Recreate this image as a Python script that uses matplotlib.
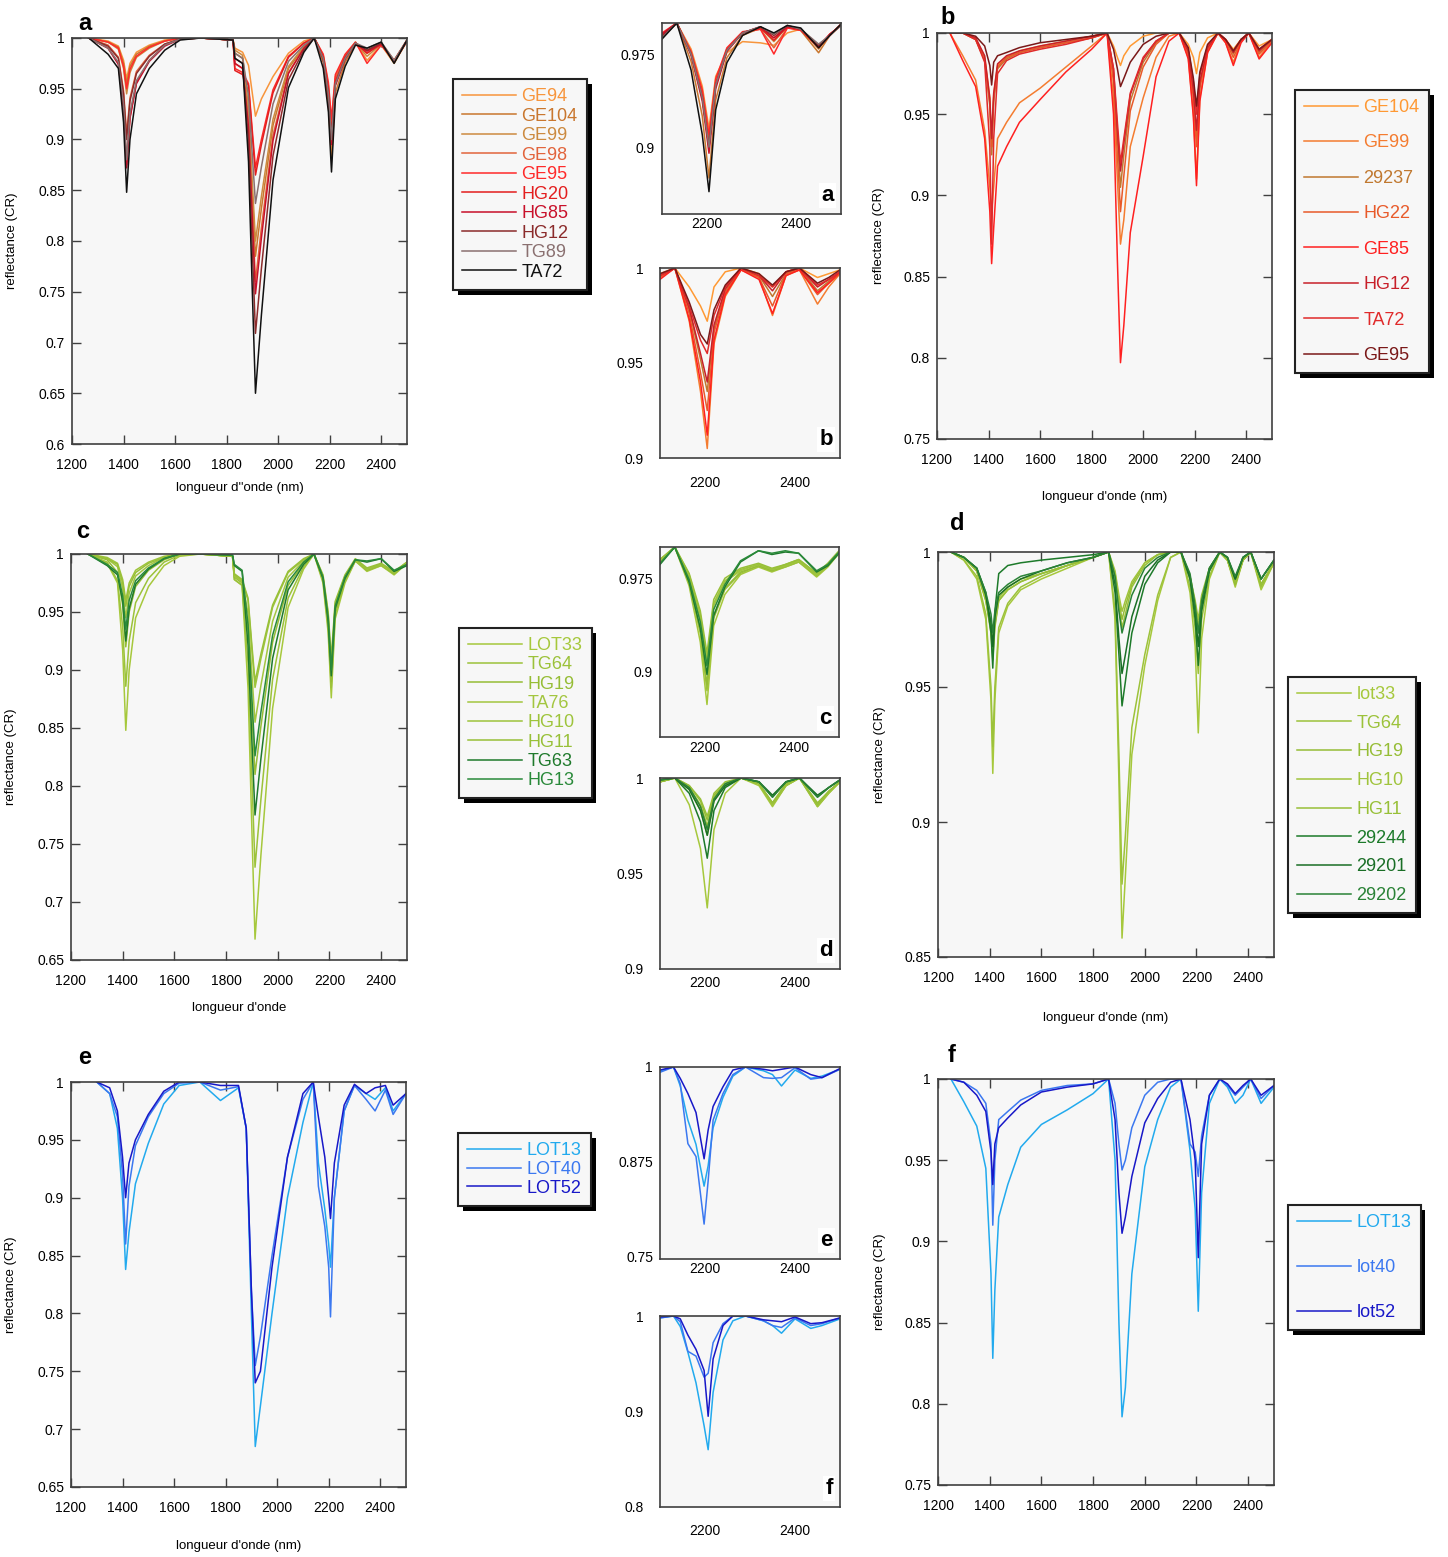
import numpy as np
import matplotlib
matplotlib.use("Agg")
import matplotlib.pyplot as plt
import matplotlib.patheffects as pe
from matplotlib.ticker import FuncFormatter

plt.rcParams['font.family'] = ['Liberation Sans', 'DejaVu Sans']

W, H = 1448, 1557
BG = "#f7f7f7"
SPINE = "#404040"

# ---- wavelength grids (nm)
WL_L = [1265, 1340, 1380, 1400, 1412, 1425, 1450, 1500, 1560, 1620, 1700, 1825, 1832, 1862, 1885,
        1900, 1912, 1935, 1980, 2040, 2100, 2140, 2175, 2195, 2207, 2222, 2260, 2300, 2345, 2400,
        2450, 2500]
WL_E = [1300, 1350, 1380, 1400, 1412, 1425, 1450, 1500, 1560, 1620, 1700, 1780, 1850, 1880, 1900,
        1915, 1935, 1980, 2040, 2100, 2140, 2160, 2185, 2200, 2207, 2222, 2260, 2300, 2345, 2380,
        2420, 2450, 2500]
WL_R = [1250, 1300, 1350, 1385, 1405, 1412, 1420, 1435, 1470, 1520, 1600, 1700, 1800, 1860, 1885,
        1900, 1912, 1925, 1950, 2000, 2050, 2100, 2140, 2175, 2195, 2207, 2220, 2250, 2290, 2320,
        2350, 2380, 2410, 2450, 2500]
WL_IN = [2100, 2133, 2165, 2190, 2205, 2220, 2245, 2280, 2320, 2350, 2380, 2410, 2450, 2475, 2500]
WL_IN2 = [2100, 2130, 2145, 2162, 2180, 2198, 2207, 2218, 2240, 2262, 2290, 2330, 2350, 2370, 2400,
          2435, 2460, 2500]

# ---- panel a
names_a = ["GE94", "GE104", "GE99", "GE98", "GE95", "HG20", "HG85", "HG12", "TG89", "TA72"]
colors_a = ["#f7953c", "#c9772e", "#cc8a40", "#e2643c", "#ff2a2a", "#e31e1e", "#c8102a",
            "#8b2b2b", "#8a7070", "#111111"]
a_GE94 = [1.000, 0.997, 0.992, 0.978, 0.960, 0.975, 0.986, 0.993, 0.998, 1.000, 1.000, 0.998, 0.990, 0.986, 0.973, 0.945, 0.923, 0.940, 0.962, 0.985, 0.997, 1.000, 0.983, 0.953, 0.915, 0.962, 0.983, 0.996, 0.978, 0.993, 0.975, 0.997]
a_GE104 = [1.000, 0.996, 0.991, 0.975, 0.955, 0.972, 0.984, 0.992, 0.997, 1.000, 1.000, 0.998, 0.985, 0.980, 0.925, 0.845, 0.785, 0.832, 0.914, 0.970, 0.991, 1.000, 0.976, 0.934, 0.880, 0.946, 0.976, 0.994, 0.988, 0.995, 0.978, 0.998]
a_GE99 = [1.000, 0.996, 0.989, 0.970, 0.945, 0.966, 0.981, 0.990, 0.997, 1.000, 1.000, 0.998, 0.988, 0.983, 0.930, 0.856, 0.800, 0.844, 0.920, 0.972, 0.992, 1.000, 0.981, 0.948, 0.905, 0.957, 0.981, 0.995, 0.982, 0.994, 0.976, 0.997]
a_GE98 = [1.000, 0.993, 0.981, 0.948, 0.905, 0.941, 0.967, 0.983, 0.994, 0.999, 1.000, 0.998, 0.975, 0.970, 0.916, 0.827, 0.760, 0.813, 0.904, 0.966, 0.990, 1.000, 0.982, 0.950, 0.910, 0.960, 0.982, 0.995, 0.985, 0.995, 0.977, 0.998]
a_GE95 = [1.000, 0.996, 0.990, 0.972, 0.950, 0.969, 0.982, 0.991, 0.997, 1.000, 1.000, 0.998, 0.970, 0.966, 0.955, 0.908, 0.872, 0.900, 0.949, 0.982, 0.995, 1.000, 0.984, 0.956, 0.920, 0.964, 0.984, 0.996, 0.975, 0.993, 0.978, 0.997]
a_HG20 = [1.000, 0.990, 0.975, 0.931, 0.875, 0.922, 0.956, 0.978, 0.993, 0.999, 1.000, 0.998, 0.968, 0.964, 0.953, 0.903, 0.865, 0.895, 0.946, 0.981, 0.995, 1.000, 0.981, 0.948, 0.905, 0.957, 0.981, 0.995, 0.985, 0.994, 0.977, 0.997]
a_HG85 = [1.000, 0.990, 0.974, 0.930, 0.872, 0.921, 0.955, 0.977, 0.992, 0.999, 1.000, 0.998, 0.975, 0.970, 0.912, 0.819, 0.748, 0.803, 0.899, 0.965, 0.990, 1.000, 0.979, 0.942, 0.895, 0.953, 0.979, 0.995, 0.987, 0.994, 0.977, 0.998]
a_HG12 = [1.000, 0.992, 0.980, 0.945, 0.900, 0.938, 0.965, 0.982, 0.994, 0.999, 1.000, 0.998, 0.980, 0.975, 0.898, 0.790, 0.709, 0.773, 0.884, 0.959, 0.988, 1.000, 0.980, 0.945, 0.900, 0.955, 0.980, 0.995, 0.988, 0.995, 0.976, 0.997]
a_TG89 = [1.000, 0.990, 0.976, 0.934, 0.880, 0.926, 0.958, 0.978, 0.993, 0.999, 1.000, 0.998, 0.985, 0.980, 0.943, 0.883, 0.837, 0.873, 0.935, 0.977, 0.993, 1.000, 0.980, 0.945, 0.900, 0.955, 0.980, 0.995, 0.990, 0.996, 0.978, 0.998]
a_TA72 = [1.000, 0.984, 0.970, 0.917, 0.848, 0.900, 0.945, 0.970, 0.988, 0.998, 1.000, 0.998, 0.980, 0.975, 0.878, 0.748, 0.650, 0.727, 0.860, 0.951, 0.986, 1.000, 0.970, 0.927, 0.868, 0.940, 0.972, 0.993, 0.990, 0.996, 0.975, 0.998]
curves_a = [a_GE94, a_GE104, a_GE99, a_GE98, a_GE95, a_HG20, a_HG85, a_HG12, a_TG89, a_TA72]

# inset a (2100-2500)
ia_GE94 = [0.990, 1.000, 0.979, 0.949, 0.915, 0.957, 0.976, 0.985, 0.984, 0.982, 0.992, 0.995, 0.982, 0.990, 0.998]
ia_GE104 = [0.988, 1.000, 0.969, 0.925, 0.875, 0.938, 0.972, 0.990, 0.996, 0.988, 0.997, 0.994, 0.976, 0.990, 0.999]
ia_GE99 = [0.990, 1.000, 0.976, 0.943, 0.905, 0.952, 0.979, 0.992, 0.996, 0.985, 0.997, 0.995, 0.979, 0.991, 0.998]
ia_GE98 = [0.991, 1.000, 0.976, 0.943, 0.905, 0.952, 0.979, 0.992, 0.995, 0.980, 0.996, 0.995, 0.980, 0.990, 0.999]
ia_GE95 = [0.992, 1.000, 0.977, 0.946, 0.910, 0.955, 0.980, 0.993, 0.995, 0.975, 0.996, 0.994, 0.981, 0.991, 0.998]
ia_HG20 = [0.990, 1.000, 0.975, 0.940, 0.900, 0.950, 0.978, 0.992, 0.996, 0.986, 0.997, 0.995, 0.980, 0.990, 0.999]
ia_HG85 = [0.991, 1.000, 0.974, 0.937, 0.895, 0.947, 0.977, 0.992, 0.997, 0.988, 0.997, 0.995, 0.981, 0.991, 0.998]
ia_HG12 = [0.989, 1.000, 0.975, 0.940, 0.900, 0.950, 0.978, 0.992, 0.997, 0.990, 0.998, 0.995, 0.982, 0.990, 0.999]
ia_TG89 = [0.988, 1.000, 0.975, 0.940, 0.900, 0.950, 0.978, 0.992, 0.997, 0.991, 0.998, 0.995, 0.983, 0.990, 0.998]
ia_TA72 = [0.987, 1.000, 0.962, 0.910, 0.864, 0.930, 0.968, 0.990, 0.997, 0.992, 0.998, 0.996, 0.980, 0.990, 0.999]
inset_a = [ia_GE94, ia_GE104, ia_GE99, ia_GE98, ia_GE95, ia_HG20, ia_HG85, ia_HG12, ia_TG89, ia_TA72]

# ---- panel b
names_b = ["GE104", "GE99", "29237", "HG22", "GE85", "HG12", "TA72", "GE95"]
colors_b = ["#ff9933", "#f47c30", "#c0782f", "#e85a2a", "#ff2020", "#c8202a", "#e02a2a", "#7a1818"]
b_GE104 = [1.000, 1.000, 0.997, 0.985, 0.960, 0.930, 0.962, 0.980, 0.985, 0.989, 0.992, 0.995, 0.998, 1.000, 0.992, 0.985, 0.980, 0.986, 0.992, 0.998, 1.000, 1.000, 1.000, 0.993, 0.985, 0.975, 0.988, 0.997, 1.000, 0.996, 0.990, 0.996, 1.000, 0.992, 0.996]
b_GE99 = [1.000, 0.986, 0.971, 0.940, 0.905, 0.890, 0.905, 0.935, 0.945, 0.957, 0.966, 0.979, 0.992, 1.000, 0.960, 0.910, 0.870, 0.885, 0.930, 0.960, 0.985, 0.998, 1.000, 0.985, 0.950, 0.910, 0.960, 0.988, 1.000, 0.994, 0.982, 0.995, 1.000, 0.985, 0.995]
b_29237 = [1.000, 1.000, 0.996, 0.983, 0.955, 0.925, 0.958, 0.978, 0.984, 0.988, 0.991, 0.994, 0.997, 1.000, 0.975, 0.935, 0.905, 0.925, 0.958, 0.982, 0.994, 1.000, 1.000, 0.988, 0.962, 0.935, 0.968, 0.990, 1.000, 0.996, 0.987, 0.996, 1.000, 0.988, 0.996]
b_HG22 = [1.000, 1.000, 0.996, 0.984, 0.957, 0.930, 0.960, 0.979, 0.985, 0.988, 0.991, 0.994, 0.997, 1.000, 0.970, 0.925, 0.890, 0.912, 0.952, 0.979, 0.993, 1.000, 1.000, 0.987, 0.960, 0.930, 0.966, 0.990, 1.000, 0.995, 0.985, 0.995, 1.000, 0.987, 0.995]
b_GE85 = [1.000, 0.983, 0.967, 0.935, 0.890, 0.858, 0.880, 0.918, 0.930, 0.945, 0.959, 0.976, 0.990, 1.000, 0.950, 0.860, 0.797, 0.820, 0.877, 0.924, 0.973, 0.995, 1.000, 0.984, 0.948, 0.906, 0.958, 0.988, 1.000, 0.994, 0.980, 0.994, 1.000, 0.984, 0.994]
b_HG12 = [1.000, 1.000, 0.997, 0.986, 0.960, 0.935, 0.963, 0.981, 0.986, 0.989, 0.992, 0.995, 0.998, 1.000, 0.978, 0.940, 0.915, 0.932, 0.962, 0.984, 0.995, 1.000, 1.000, 0.989, 0.965, 0.940, 0.970, 0.991, 1.000, 0.996, 0.988, 0.996, 1.000, 0.989, 0.996]
b_TA72 = [1.000, 1.000, 0.996, 0.982, 0.930, 0.870, 0.935, 0.975, 0.983, 0.987, 0.990, 0.993, 0.997, 1.000, 0.978, 0.945, 0.920, 0.935, 0.963, 0.985, 0.995, 1.000, 1.000, 0.990, 0.970, 0.950, 0.974, 0.992, 1.000, 0.996, 0.989, 0.996, 1.000, 0.990, 0.996]
b_GE95 = [1.000, 1.000, 0.998, 0.992, 0.980, 0.968, 0.982, 0.986, 0.988, 0.991, 0.994, 0.996, 0.998, 1.000, 0.990, 0.978, 0.967, 0.972, 0.982, 0.993, 0.998, 1.000, 1.000, 0.991, 0.972, 0.955, 0.976, 0.993, 1.000, 0.996, 0.989, 0.996, 1.000, 0.990, 0.996]
curves_b = [b_GE104, b_GE99, b_29237, b_HG22, b_GE85, b_HG12, b_TA72, b_GE95]

ib_GE104 = [0.997, 1.000, 0.990, 0.980, 0.972, 0.990, 0.998, 1.000, 0.997, 0.990, 0.998, 1.000, 0.995, 0.997, 0.999]
ib_GE99 = [0.995, 1.000, 0.972, 0.935, 0.905, 0.960, 0.985, 0.999, 0.995, 0.975, 0.996, 0.999, 0.981, 0.990, 0.997]
ib_29237 = [0.996, 1.000, 0.978, 0.952, 0.935, 0.968, 0.988, 0.999, 0.996, 0.985, 0.997, 1.000, 0.988, 0.993, 0.998]
ib_HG22 = [0.995, 1.000, 0.976, 0.945, 0.925, 0.966, 0.987, 1.000, 0.995, 0.980, 0.997, 0.999, 0.986, 0.992, 0.997]
ib_GE85 = [0.994, 1.000, 0.973, 0.940, 0.912, 0.962, 0.986, 0.999, 0.994, 0.976, 0.996, 0.999, 0.987, 0.992, 0.998]
ib_HG12 = [0.996, 1.000, 0.979, 0.955, 0.940, 0.970, 0.989, 1.000, 0.996, 0.988, 0.998, 1.000, 0.990, 0.994, 0.998]
ib_TA72 = [0.996, 1.000, 0.980, 0.962, 0.955, 0.975, 0.990, 1.000, 0.996, 0.990, 0.998, 1.000, 0.991, 0.994, 0.998]
ib_GE95 = [0.997, 1.000, 0.982, 0.965, 0.960, 0.978, 0.991, 1.000, 0.997, 0.991, 0.998, 1.000, 0.992, 0.995, 0.999]
inset_b = [ib_GE104, ib_GE99, ib_29237, ib_HG22, ib_GE85, ib_HG12, ib_TA72, ib_GE95]

# ---- panel c
names_c = ["LOT33", "TG64", "HG19", "TA76", "HG10", "HG11", "TG63", "HG13"]
colors_c = ["#a6c83c", "#9cc23a", "#96bd36", "#a3c640", "#9ec43c", "#98c038", "#1f7a2c", "#2a8a3a"]
c_LOT33 = [1.000, 0.992, 0.975, 0.917, 0.848, 0.900, 0.945, 0.972, 0.990, 0.998, 1.000, 0.998, 0.978, 0.973, 0.884, 0.761, 0.668, 0.741, 0.867, 0.954, 0.987, 1.000, 0.975, 0.932, 0.876, 0.944, 0.975, 0.994, 0.985, 0.990, 0.982, 0.992]
c_TG64 = [1.000, 0.993, 0.977, 0.937, 0.886, 0.925, 0.958, 0.979, 0.993, 0.999, 1.000, 0.998, 0.978, 0.973, 0.906, 0.806, 0.730, 0.789, 0.892, 0.962, 0.989, 1.000, 0.977, 0.937, 0.885, 0.948, 0.977, 0.994, 0.986, 0.990, 0.983, 0.992]
c_HG19 = [1.000, 0.995, 0.984, 0.956, 0.920, 0.950, 0.972, 0.986, 0.995, 1.000, 1.000, 0.998, 0.980, 0.975, 0.934, 0.863, 0.810, 0.852, 0.924, 0.973, 0.992, 1.000, 0.978, 0.940, 0.890, 0.950, 0.978, 0.995, 0.986, 0.991, 0.983, 0.992]
c_TA76 = [1.000, 0.996, 0.989, 0.970, 0.945, 0.966, 0.981, 0.990, 0.997, 1.000, 1.000, 0.998, 0.981, 0.976, 0.949, 0.896, 0.855, 0.887, 0.942, 0.980, 0.994, 1.000, 0.980, 0.945, 0.900, 0.955, 0.980, 0.995, 0.987, 0.991, 0.984, 0.993]
c_HG10 = [1.000, 0.997, 0.992, 0.978, 0.960, 0.975, 0.986, 0.993, 0.998, 1.000, 1.000, 0.998, 0.982, 0.977, 0.960, 0.917, 0.885, 0.910, 0.954, 0.984, 0.995, 1.000, 0.981, 0.948, 0.905, 0.957, 0.981, 0.995, 0.987, 0.991, 0.984, 0.993]
c_HG11 = [1.000, 0.996, 0.991, 0.975, 0.955, 0.972, 0.984, 0.992, 0.997, 1.000, 1.000, 0.998, 0.983, 0.978, 0.962, 0.921, 0.890, 0.914, 0.956, 0.985, 0.996, 1.000, 0.982, 0.950, 0.910, 0.959, 0.982, 0.996, 0.988, 0.992, 0.985, 0.993]
c_TG63 = [1.000, 0.990, 0.982, 0.959, 0.925, 0.953, 0.974, 0.987, 0.996, 1.000, 1.000, 0.999, 0.990, 0.985, 0.921, 0.838, 0.775, 0.824, 0.910, 0.969, 0.991, 1.000, 0.979, 0.942, 0.895, 0.953, 0.979, 0.995, 0.993, 0.996, 0.985, 0.990]
c_HG13 = [1.000, 0.991, 0.984, 0.964, 0.935, 0.960, 0.977, 0.988, 0.996, 1.000, 1.000, 0.999, 0.991, 0.986, 0.939, 0.875, 0.826, 0.864, 0.930, 0.976, 0.993, 1.000, 0.980, 0.945, 0.900, 0.955, 0.980, 0.995, 0.994, 0.996, 0.986, 0.991]
curves_c = [c_LOT33, c_TG64, c_HG19, c_TA76, c_HG10, c_HG11, c_TG63, c_HG13]

ic_LOT33 = [0.988, 1.000, 0.969, 0.924, 0.874, 0.937, 0.962, 0.978, 0.984, 0.980, 0.984, 0.988, 0.976, 0.984, 0.995]
ic_TG64 = [0.988, 1.000, 0.971, 0.931, 0.885, 0.943, 0.966, 0.979, 0.985, 0.981, 0.984, 0.988, 0.977, 0.985, 0.995]
ic_HG19 = [0.989, 1.000, 0.973, 0.934, 0.890, 0.945, 0.967, 0.980, 0.985, 0.981, 0.985, 0.989, 0.978, 0.985, 0.996]
ic_TA76 = [0.989, 1.000, 0.976, 0.943, 0.905, 0.953, 0.972, 0.981, 0.986, 0.982, 0.985, 0.989, 0.978, 0.986, 0.996]
ic_HG10 = [0.990, 1.000, 0.978, 0.946, 0.910, 0.955, 0.973, 0.982, 0.986, 0.982, 0.986, 0.990, 0.979, 0.986, 0.996]
ic_HG11 = [0.990, 1.000, 0.979, 0.949, 0.915, 0.958, 0.975, 0.983, 0.987, 0.983, 0.986, 0.990, 0.979, 0.987, 0.997]
ic_TG63 = [0.986, 1.000, 0.972, 0.935, 0.898, 0.945, 0.968, 0.988, 0.997, 0.994, 0.996, 0.995, 0.980, 0.985, 0.995]
ic_HG13 = [0.987, 1.000, 0.974, 0.940, 0.905, 0.950, 0.970, 0.989, 0.997, 0.995, 0.997, 0.995, 0.981, 0.986, 0.996]
inset_c = [ic_LOT33, ic_TG64, ic_HG19, ic_TA76, ic_HG10, ic_HG11, ic_TG63, ic_HG13]

# ---- panel d
names_d = ["lot33", "TG64", "HG19", "HG10", "HG11", "29244", "29201", "29202"]
colors_d = ["#a6c83c", "#9cc23a", "#96bd36", "#a0c43c", "#98c038", "#1d7a2a", "#1a6e26", "#2a8236"]
d_lot33 = [1.000, 0.997, 0.990, 0.975, 0.945, 0.918, 0.945, 0.970, 0.980, 0.986, 0.990, 0.994, 0.998, 1.000, 0.975, 0.915, 0.857, 0.880, 0.925, 0.958, 0.982, 0.998, 1.000, 0.985, 0.965, 0.933, 0.968, 0.990, 1.000, 0.997, 0.987, 0.997, 1.000, 0.986, 0.996]
d_TG64 = [1.000, 0.997, 0.991, 0.977, 0.950, 0.928, 0.950, 0.972, 0.981, 0.987, 0.991, 0.995, 0.998, 1.000, 0.978, 0.925, 0.877, 0.895, 0.935, 0.962, 0.984, 0.998, 1.000, 0.987, 0.972, 0.955, 0.975, 0.991, 1.000, 0.997, 0.988, 0.997, 1.000, 0.987, 0.996]
d_HG19 = [1.000, 0.998, 0.993, 0.982, 0.970, 0.960, 0.972, 0.982, 0.986, 0.989, 0.992, 0.995, 0.998, 1.000, 0.992, 0.982, 0.975, 0.980, 0.988, 0.996, 0.999, 1.000, 1.000, 0.990, 0.980, 0.970, 0.982, 0.993, 1.000, 0.997, 0.988, 0.997, 1.000, 0.988, 0.996]
d_HG10 = [1.000, 0.998, 0.993, 0.983, 0.973, 0.965, 0.975, 0.983, 0.987, 0.990, 0.992, 0.995, 0.998, 1.000, 0.993, 0.984, 0.978, 0.982, 0.989, 0.996, 0.999, 1.000, 1.000, 0.991, 0.981, 0.972, 0.983, 0.993, 1.000, 0.997, 0.989, 0.997, 1.000, 0.988, 0.996]
d_HG11 = [1.000, 0.998, 0.993, 0.982, 0.971, 0.962, 0.973, 0.982, 0.986, 0.989, 0.992, 0.995, 0.998, 1.000, 0.991, 0.980, 0.972, 0.977, 0.987, 0.995, 0.999, 1.000, 1.000, 0.991, 0.982, 0.975, 0.984, 0.994, 1.000, 0.997, 0.989, 0.997, 1.000, 0.988, 0.996]
d_29244 = [1.000, 0.998, 0.994, 0.985, 0.970, 0.957, 0.978, 0.992, 0.995, 0.996, 0.997, 0.998, 0.999, 1.000, 0.985, 0.962, 0.943, 0.952, 0.970, 0.988, 0.996, 1.000, 1.000, 0.990, 0.975, 0.958, 0.978, 0.993, 1.000, 0.998, 0.990, 0.998, 1.000, 0.990, 0.997]
d_29201 = [1.000, 0.998, 0.994, 0.984, 0.974, 0.965, 0.976, 0.984, 0.987, 0.990, 0.993, 0.996, 0.998, 1.000, 0.988, 0.968, 0.955, 0.962, 0.976, 0.991, 0.997, 1.000, 1.000, 0.991, 0.978, 0.965, 0.980, 0.994, 1.000, 0.998, 0.990, 0.998, 1.000, 0.990, 0.997]
d_29202 = [1.000, 0.998, 0.994, 0.985, 0.977, 0.970, 0.978, 0.985, 0.988, 0.991, 0.993, 0.996, 0.998, 1.000, 0.991, 0.978, 0.970, 0.975, 0.984, 0.994, 0.998, 1.000, 1.000, 0.992, 0.980, 0.970, 0.982, 0.994, 1.000, 0.998, 0.991, 0.998, 1.000, 0.990, 0.997]
curves_d = [d_lot33, d_TG64, d_HG19, d_HG10, d_HG11, d_29244, d_29201, d_29202]

id_lot33 = [0.998, 1.000, 0.986, 0.963, 0.932, 0.973, 0.992, 1.000, 0.996, 0.985, 0.996, 1.000, 0.985, 0.992, 0.998]
id_TG64 = [0.998, 1.000, 0.995, 0.986, 0.975, 0.990, 0.997, 1.000, 0.997, 0.986, 0.996, 1.000, 0.986, 0.993, 0.998]
id_HG19 = [0.998, 1.000, 0.996, 0.988, 0.978, 0.991, 0.997, 1.000, 0.997, 0.987, 0.997, 1.000, 0.987, 0.993, 0.998]
id_HG10 = [0.998, 1.000, 0.994, 0.983, 0.970, 0.988, 0.996, 1.000, 0.997, 0.986, 0.996, 1.000, 0.985, 0.992, 0.998]
id_HG11 = [0.998, 1.000, 0.996, 0.989, 0.980, 0.992, 0.998, 1.000, 0.997, 0.987, 0.997, 1.000, 0.986, 0.993, 0.998]
id_29244 = [0.999, 1.000, 0.992, 0.977, 0.958, 0.983, 0.995, 1.000, 0.998, 0.990, 0.998, 1.000, 0.990, 0.995, 0.999]
id_29201 = [0.999, 1.000, 0.994, 0.983, 0.970, 0.988, 0.996, 1.000, 0.998, 0.991, 0.998, 1.000, 0.991, 0.995, 0.999]
id_29202 = [0.999, 1.000, 0.995, 0.985, 0.973, 0.989, 0.997, 1.000, 0.998, 0.990, 0.998, 1.000, 0.990, 0.995, 0.999]
inset_d = [id_lot33, id_TG64, id_HG19, id_HG10, id_HG11, id_29244, id_29201, id_29202]

# ---- panel e
names_e = ["LOT13", "LOT40", "LOT52"]
colors_ef = ["#22aaee", "#3b78f0", "#1818c8"]
e_LOT13 = [1.000, 0.990, 0.960, 0.900, 0.838, 0.870, 0.912, 0.947, 0.981, 0.997, 1.000, 0.984, 0.995, 0.960, 0.800, 0.685, 0.720, 0.800, 0.900, 0.965, 1.000, 0.930, 0.890, 0.860, 0.840, 0.900, 0.975, 0.997, 0.990, 0.985, 0.995, 0.975, 0.990]
e_LOT40 = [1.000, 0.990, 0.970, 0.920, 0.860, 0.910, 0.945, 0.970, 0.990, 0.999, 1.000, 0.993, 0.996, 0.960, 0.820, 0.755, 0.780, 0.850, 0.935, 0.985, 1.000, 0.910, 0.875, 0.840, 0.797, 0.900, 0.975, 0.997, 0.985, 0.975, 0.993, 0.972, 0.990]
e_LOT52 = [1.000, 0.995, 0.975, 0.935, 0.900, 0.930, 0.950, 0.972, 0.992, 1.000, 1.000, 0.997, 0.997, 0.960, 0.820, 0.740, 0.750, 0.840, 0.935, 0.990, 1.000, 0.970, 0.935, 0.900, 0.882, 0.930, 0.980, 0.998, 0.990, 0.995, 0.997, 0.980, 0.990]
curves_e = [e_LOT13, e_LOT40, e_LOT52]

ie_LOT13 = [0.995, 1.000, 0.975, 0.930, 0.898, 0.843, 0.870, 0.920, 0.960, 0.988, 1.000, 0.995, 0.990, 0.975, 0.996, 0.985, 0.988, 0.997]
ie_LOT40 = [0.993, 1.000, 0.978, 0.899, 0.882, 0.793, 0.850, 0.930, 0.965, 0.990, 1.000, 0.986, 0.985, 0.986, 0.999, 0.984, 0.986, 0.997]
ie_LOT52 = [0.996, 1.000, 0.985, 0.965, 0.940, 0.879, 0.917, 0.948, 0.974, 0.996, 1.000, 0.997, 0.995, 0.997, 1.000, 0.990, 0.986, 0.998]
inset_e = [ie_LOT13, ie_LOT40, ie_LOT52]

# ---- panel f
names_f = ["LOT13", "lot40", "lot52"]
f_LOT13 = [1.000, 0.986, 0.971, 0.945, 0.880, 0.828, 0.870, 0.915, 0.935, 0.958, 0.972, 0.981, 0.991, 1.000, 0.950, 0.850, 0.792, 0.810, 0.880, 0.946, 0.975, 0.995, 1.000, 0.956, 0.920, 0.857, 0.930, 0.985, 1.000, 0.995, 0.985, 0.990, 1.000, 0.985, 0.995]
f_lot40 = [1.000, 0.998, 0.993, 0.985, 0.960, 0.910, 0.950, 0.975, 0.980, 0.987, 0.993, 0.996, 0.997, 1.000, 0.985, 0.960, 0.944, 0.950, 0.970, 0.990, 0.998, 1.000, 1.000, 0.960, 0.955, 0.940, 0.965, 0.990, 1.000, 0.996, 0.990, 0.995, 1.000, 0.988, 0.996]
f_lot52 = [1.000, 0.998, 0.990, 0.980, 0.955, 0.935, 0.960, 0.970, 0.976, 0.984, 0.992, 0.995, 0.997, 1.000, 0.975, 0.930, 0.905, 0.915, 0.940, 0.973, 0.988, 0.998, 1.000, 0.975, 0.950, 0.890, 0.960, 0.990, 1.000, 0.997, 0.991, 0.996, 1.000, 0.990, 0.996]
curves_f = [f_LOT13, f_lot40, f_lot52]

if_LOT13 = [0.998, 1.000, 0.989, 0.962, 0.930, 0.885, 0.860, 0.920, 0.975, 0.995, 1.000, 0.995, 0.990, 0.982, 0.997, 0.987, 0.990, 0.997]
if_lot40 = [0.998, 1.000, 0.994, 0.963, 0.958, 0.936, 0.940, 0.972, 0.992, 1.000, 1.000, 0.995, 0.990, 0.988, 0.998, 0.990, 0.992, 0.998]
if_lot52 = [0.999, 1.000, 0.997, 0.980, 0.965, 0.943, 0.895, 0.955, 0.990, 1.000, 1.000, 0.996, 0.995, 0.994, 0.999, 0.992, 0.993, 0.998]
inset_f = [if_LOT13, if_lot40, if_lot52]


fig = plt.figure(figsize=(W / 100, H / 100), dpi=100)
fmt = FuncFormatter(lambda v, p: f"{round(v, 3):g}")


def box(x0, y0, x1, y1):
    # pixel box -> figure axes
    return fig.add_axes([x0 / W, 1 - y1 / H, (x1 - x0) / W, (y1 - y0) / H])


def frame(ax):
    ax.set_facecolor(BG)
    for s in ax.spines.values():
        s.set_color(SPINE)
        s.set_linewidth(1.2)


def main_panel(rect, wl, curves, colors, ylim, ystep, letter, let_xy, xlabel, xl_y, yl_x):
    ax = box(*rect)
    frame(ax)
    lines = []
    for vals, c in zip(curves, colors):
        ln, = ax.plot(wl, vals, color=c, lw=1.1)
        lines.append(ln)
    ax.set_xlim(1200, 2500)
    ax.set_ylim(*ylim)
    ax.set_xticks(range(1200, 2401, 200))
    ax.set_yticks(np.arange(ylim[0], ylim[1] + 1e-9, ystep))
    ax.yaxis.set_major_formatter(fmt)
    ax.tick_params(direction="in", length=6.5, width=1, top=True, right=True,
                   labelsize=10, color=SPINE)
    ax.tick_params(axis="x", pad=10)
    ax.tick_params(axis="y", pad=5)
    ax.set_ylabel("reflectance (CR)", fontsize=9.5)
    ax.yaxis.set_label_coords(yl_x, 0.5)
    if xlabel:
        ax.set_xlabel(xlabel, fontsize=9.5)
        ax.xaxis.set_label_coords(0.5, xl_y)
    fig.text(let_xy[0] / W, 1 - let_xy[1] / H, letter, fontsize=17, fontweight="bold",
             family=["Liberation Sans Narrow", "Liberation Sans"], ha="center", va="center")
    return lines


def inset(rect, wl, curves, colors, ylim, yticks, letter, ypad, xpad):
    ax = box(*rect)
    frame(ax)
    for vals, c in zip(curves, colors):
        ax.plot(wl, vals, color=c, lw=1.1)
    ax.set_xlim(2100, 2500)
    ax.set_ylim(*ylim)
    ax.set_xticks([2200, 2400])
    ax.set_yticks(yticks)
    ax.yaxis.set_major_formatter(fmt)
    ax.tick_params(length=0, labelsize=10)
    ax.tick_params(axis="y", pad=ypad)
    ax.tick_params(axis="x", pad=xpad)
    ax.text(0.96, 0.04, letter, transform=ax.transAxes, ha="right", va="bottom",
            fontsize=16, fontweight="bold", family=["Liberation Sans Narrow", "Liberation Sans"],
            bbox=dict(fc="white", ec="none", pad=1.5))


def legend(lines, labels, x0, y0, spacing):
    leg = fig.legend(lines, labels, loc="upper left", bbox_to_anchor=(x0 / W, 1 - y0 / H),
                     bbox_transform=fig.transFigure, borderaxespad=0, fancybox=False,
                     fontsize=13, handlelength=3.0, handletextpad=0.3, borderpad=0.5,
                     labelspacing=spacing, labelcolor="linecolor")
    fr = leg.get_frame()
    fr.set_edgecolor("#222222")
    fr.set_linewidth(1.5)
    fr.set_facecolor(BG)
    fr.set_alpha(1)
    fr.set_path_effects([pe.SimplePatchShadow(offset=(3.5, -3.5), shadow_rgbFace="black", alpha=1.0),
                         pe.Normal()])


# main panels
la = main_panel((72, 38, 407, 444), WL_L, curves_a, colors_a, (0.6, 1.0), 0.05, "a", (85, 23),
                "longueur d''onde (nm)", -0.094, -0.16)
lb = main_panel((937, 33, 1272, 439), WL_R, curves_b, colors_b, (0.75, 1.0), 0.05, "b", (948, 17),
                "longueur d'onde (nm)", -0.128, -0.155)
lc = main_panel((71, 554, 407, 960), WL_L, curves_c, colors_c, (0.65, 1.0), 0.05, "c", (83, 531),
                "longueur d'onde", -0.103, -0.16)
ld = main_panel((938, 552, 1274, 957), WL_R, curves_d, colors_d, (0.85, 1.0), 0.05, "d", (957, 524),
                "longueur d'onde (nm)", -0.136, -0.155)
le = main_panel((71, 1082, 406, 1487), WL_E, curves_e, colors_ef, (0.65, 1.0), 0.05, "e", (85, 1058),
                "longueur d'onde (nm)", -0.131, -0.16)
lf = main_panel((938, 1079, 1274, 1485), WL_R, curves_f, colors_ef, (0.75, 1.0), 0.05, "f", (952, 1056),
                None, None, -0.155)

# insets
inset((662, 23, 841, 214), WL_IN, inset_a, colors_a, (0.846, 1.0), [0.9, 0.975], "a", 5, 2)
inset((660, 268, 840, 458), WL_IN, inset_b, colors_b, (0.9, 1.0), [0.9, 0.95, 1.0], "b", 12, 13)
inset((660, 547, 839, 737), WL_IN, inset_c, colors_c, (0.848, 1.0), [0.9, 0.975], "c", 5, 3)
inset((660, 778, 840, 969), WL_IN, inset_d, colors_d, (0.9, 1.0), [0.9, 0.95, 1.0], "d", 12, 5)
inset((660, 1067, 840, 1259), WL_IN2, inset_e, colors_ef, (0.747, 1.0), [0.75, 0.875, 1.0], "e", 5, 2)
inset((660, 1316, 840, 1507), WL_IN2, inset_f, colors_ef, (0.8, 1.0), [0.8, 0.9, 1.0], "f", 12, 12)

# legends
legend(la, names_a, 453, 79, 0.14)
legend(lb, names_b, 1295, 90, 1.02)
legend(lc, names_c, 459, 628, 0.13)
legend(ld, names_d, 1288, 677, 0.65)
legend(le, names_e, 458, 1133, 0.10)
legend(lf, names_f, 1288, 1205, 1.56)

fig.savefig("out.png", dpi=100, facecolor="white")
print("out.png written")
